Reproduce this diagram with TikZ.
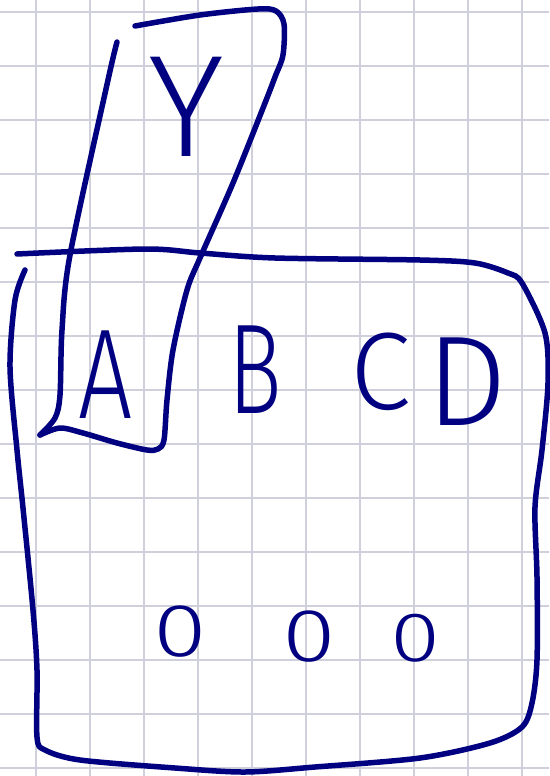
\documentclass[tikz,border=0pt]{standalone}
\usepackage{fontspec}
\newfontfamily\hand{Fira Sans Light}
\definecolor{ink}{RGB}{0,0,128}
\definecolor{gridc}{RGB}{208,208,220}
\tikzset{
  pen/.style={draw=ink, line width=5.5pt, line cap=round, line join=round},
  lbl/.style={text=ink, inner sep=0pt, anchor=center},
}
\begin{document}
\begin{tikzpicture}[x=1pt,y=-1pt]
\useasboundingbox (0,0) rectangle (549,776);
\fill[white] (0,0) rectangle (549,776);
% grid
\foreach \i in {0,...,9} { \draw[gridc, line width=1.5pt] ({36+54*\i},0) -- ({36+54*\i},776); }
\foreach \j in {0,...,14} { \draw[gridc, line width=1.5pt] (0,{12+54*\j}) -- (549,{12+54*\j}); }
% tall tilted box (left edge)
\draw[pen] plot[smooth, tension=0.5] coordinates {(117,42) (108,80) (70,255) (62,330) (60,395) (55,418) (40,435)};
% tall tilted box (top, right, bottom)
\draw[pen] plot[smooth, tension=0.5] coordinates {(135,26) (200,15) (258,9) (276,11) (284,24) (283,55) (275,77) (265,103) (233,183) (200,258) (187,290) (173,350) (167,400) (164,440) (158,449) (147,450) (117,443) (83,433) (60,428) (40,435)};
% big box
\draw[pen] plot[smooth, tension=0.5] coordinates {(17,254) (145,249) (200,253) (275,258) (420,260) (475,263) (508,273) (522,283) (545,333) (548,383) (542,450) (535,507) (537,577) (537,660) (532,703) (522,727) (490,743) (420,758) (315,767) (245,772) (175,768) (80,760) (45,750) (37,737) (37,670) (33,610) (23,508) (17,450) (10,367) (15,300) (25,270)};
% labels
\node[lbl, font=\hand\fontsize{145}{150}\selectfont] (y) at (186,107) {Y};
\node[lbl, xscale=0.75, font=\hand\fontsize{128}{130}\selectfont] (a) at (106,375) {A};
\node[lbl, xscale=0.7, font=\hand\fontsize{128}{130}\selectfont] (b) at (255,370) {B};
\node[lbl, font=\hand\fontsize{110}{130}\selectfont] (c) at (381,372) {C};
\node[lbl, font=\hand\fontsize{128}{130}\selectfont] (d) at (467,382) {D};
\node[lbl, xscale=1.3, font=\hand\fontsize{75}{80}\selectfont] (z1) at (180,632) {0};
\node[lbl, xscale=1.3, font=\hand\fontsize{75}{80}\selectfont] (z2) at (309,637) {0};
\node[lbl, xscale=1.3, font=\hand\fontsize{70}{80}\selectfont] (z3) at (416,638) {0};
\end{tikzpicture}
\end{document}
